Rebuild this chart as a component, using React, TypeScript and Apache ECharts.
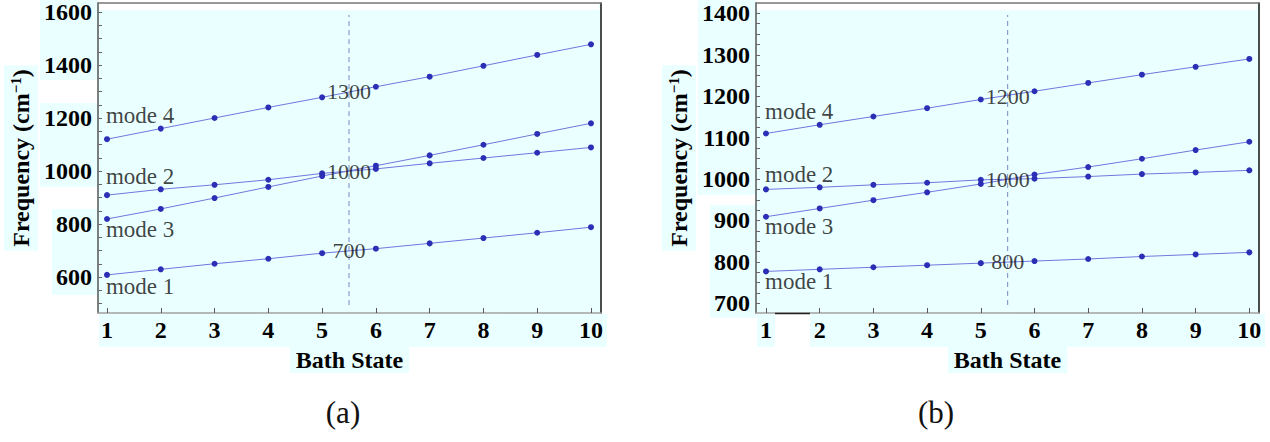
import React, { useEffect, useRef } from "react";
import * as echarts from "echarts";

// ---------- data ----------
const bathStates = [1, 2, 3, 4, 5, 6, 7, 8, 9, 10];

// panel (a)
const aMode1 = [608, 629, 650, 669, 690, 707, 727, 747, 767, 788];
const aMode2 = [909, 931, 948, 967, 991, 1008, 1029, 1049, 1069, 1089];
const aMode3 = [819, 857, 898, 940, 981, 1020, 1059, 1099, 1140, 1180];
const aMode4 = [1120, 1160, 1200, 1240, 1278, 1318, 1356, 1397, 1438, 1478];
const aMarkValues = [1300, 1000, 700];
const aModeLabelY = [565, 980, 780, 1210]; // mode 1, 2, 3, 4
const aYTickLabels = [600, 800, 1000, 1200, 1400, 1600];
const aYMinorTicks = [500, 550, 600, 650, 700, 750, 800, 850, 900, 950, 1000, 1050, 1100, 1150, 1200, 1250, 1300, 1350, 1400, 1450, 1500, 1550, 1600];
const aDashRange = [494, 1589];

// panel (b)
const bMode1 = [777, 782, 787, 792, 797, 802, 807, 813, 818, 823];
const bMode2 = [975, 980, 986, 991, 998, 1001, 1006, 1012, 1016, 1021];
const bMode3 = [909, 929, 949, 968, 988, 1011, 1029, 1049, 1070, 1090];
const bMode4 = [1110, 1131, 1151, 1171, 1192, 1212, 1232, 1252, 1271, 1290];
const bMarkValues = [1200, 1000, 800];
const bModeLabelY = [752, 1010, 885, 1162];
const bYTickLabels = [700, 800, 900, 1000, 1100, 1200, 1300, 1400];
const bYMinorTicks = [700, 725, 750, 775, 800, 825, 850, 875, 900, 925, 950, 975, 1000, 1025, 1050, 1075, 1100, 1125, 1150, 1175, 1200, 1225, 1250, 1275, 1300, 1325, 1350, 1375, 1400];
const bDashRange = [696, 1396];

const modeNames = ["mode 1", "mode 2", "mode 3", "mode 4"];
const dividerX = 5.5;

// ---------- styles ----------
const SERIF = "Liberation Serif";
const CYAN = "#eaffff";
const LINE_COLOR = "#7475de";
const DOT_COLOR = "#2b2fb5";

function buildPanel(
  gi: number,
  modes: number[][],
  marks: number[],
  labelY: number[],
  yLabels: number[],
  yTicks: number[],
  dash: number[],
  xRange: number[],
  yRange: number[]
) {
  const xAxes = [
    {
      type: "value",
      gridIndex: gi,
      min: xRange[0],
      max: xRange[1],
      name: "Bath State",
      nameLocation: "middle",
      nameGap: 34,
      nameTextStyle: {
        fontFamily: SERIF,
        fontWeight: "bold",
        fontSize: 24,
        color: "#000",
        backgroundColor: CYAN,
        padding: [1, 6, 1, 6],
        verticalAlign: "top",
      },
      axisLine: { show: true, lineStyle: { color: "#a0a0a0", width: 1.5 } },
      axisTick: { show: true, inside: true, length: 5, customValues: bathStates, lineStyle: { color: "#555" } },
      axisLabel: {
        show: true,
        customValues: bathStates,
        formatter: (v: number) => String(v),
        fontFamily: SERIF,
        fontWeight: "bold",
        fontSize: 24,
        color: "#000",
        margin: 5,
      },
      splitLine: { show: false },
    },
    {
      type: "value",
      gridIndex: gi,
      position: "top",
      min: xRange[0],
      max: xRange[1],
      axisLine: { show: true, onZero: false, lineStyle: { color: "#777", width: 1.5 } },
      axisTick: { show: false },
      axisLabel: { show: false },
      splitLine: { show: false },
    },
  ];
  const yAxes = [
    {
      type: "value",
      gridIndex: gi,
      min: yRange[0],
      max: yRange[1],
      name: "{t|Frequency (cm}{s|−1}{t|)}",
      nameLocation: "middle",
      nameGap: 60,
      nameTextStyle: {
        backgroundColor: CYAN,
        padding: [4, 4, 4, 4],
        rich: {
          t: { fontFamily: SERIF, fontWeight: "bold", fontSize: 24, color: "#000", lineHeight: 26 },
          s: { fontFamily: SERIF, fontWeight: "bold", fontSize: 15, color: "#000", lineHeight: 15, verticalAlign: "top" },
        },
      },
      axisLine: { show: true, onZero: false, lineStyle: { color: "#555", width: 1.5 } },
      axisTick: { show: true, inside: true, length: 4, customValues: yTicks, lineStyle: { color: "#666" } },
      axisLabel: {
        show: true,
        customValues: yLabels,
        formatter: (v: number) => String(v),
        fontFamily: SERIF,
        fontWeight: "bold",
        fontSize: 24,
        color: "#000",
        margin: 6,
      },
      splitLine: { show: false },
    },
    {
      type: "value",
      gridIndex: gi,
      position: "right",
      min: yRange[0],
      max: yRange[1],
      axisLine: { show: true, onZero: false, lineStyle: { color: "#111", width: 1.5 } },
      axisTick: { show: false },
      axisLabel: { show: false },
      splitLine: { show: false },
    },
  ];
  const xi = gi * 2;
  const yi = gi * 2;
  const series: any[] = modes.map((vals, k) => ({
    type: "line",
    name: modeNames[k],
    xAxisIndex: xi,
    yAxisIndex: yi,
    data: bathStates.map((x, i) => [x, vals[i]]),
    symbol: "circle",
    symbolSize: 6,
    lineStyle: { color: LINE_COLOR, width: 1 },
    itemStyle: { color: DOT_COLOR },
    z: 3,
  }));
  series.push({
    type: "line",
    xAxisIndex: xi,
    yAxisIndex: yi,
    data: [
      [dividerX, dash[0]],
      [dividerX, dash[1]],
    ],
    symbol: "none",
    lineStyle: { color: "#7a88c4", width: 1, type: [5, 4] },
    z: 2,
  });
  series.push({
    type: "scatter",
    xAxisIndex: xi,
    yAxisIndex: yi,
    data: marks.map((v) => [dividerX, v]),
    symbolSize: 0,
    label: {
      show: true,
      position: "inside",
      formatter: (p: any) => String(p.data[1]),
      fontFamily: SERIF,
      fontSize: 22,
      color: "#111",
    },
    z: 4,
  });
  series.push({
    type: "scatter",
    xAxisIndex: xi,
    yAxisIndex: yi,
    data: labelY.map((v, k) => [bathStates[0], v, modeNames[k]]),
    symbolSize: 0,
    label: {
      show: true,
      position: "right",
      distance: -1,
      formatter: (p: any) => p.data[2],
      fontFamily: SERIF,
      fontSize: 23,
      color: "#111",
    },
    z: 4,
  });
  return { xAxes, yAxes, series };
}

export default function App() {
  const ref = useRef<HTMLDivElement>(null);
  useEffect(() => {
    if (!ref.current) return;
    const chart = echarts.init(ref.current, undefined, { renderer: "svg" });
    const pa = buildPanel(0, [aMode1, aMode2, aMode3, aMode4], aMarkValues, aModeLabelY, aYTickLabels, aYMinorTicks, aDashRange, [0.833, 10.186], [464.2, 1634]);
    const pb = buildPanel(1, [bMode1, bMode2, bMode3, bMode4], bMarkValues, bModeLabelY, bYTickLabels, bYMinorTicks, bDashRange, [0.814, 10.18], [676.6, 1425]);
    const rect = (x: number, y: number, w: number, h: number, fill: string, z: number) => ({
      type: "rect",
      shape: { x, y, width: w, height: h },
      style: { fill },
      z,
      silent: true,
    });
    chart.setOption({
      animation: false,
      backgroundColor: "#fff",
      textStyle: { fontFamily: SERIF },
      grid: [
        { left: 98, top: 3, width: 503, height: 310, show: true, backgroundColor: CYAN, borderWidth: 0 },
        { left: 756, top: 3, width: 503, height: 310, show: true, backgroundColor: CYAN, borderWidth: 0 },
      ],
      xAxis: [...pa.xAxes, ...pb.xAxes],
      yAxis: [...pa.yAxes, ...pb.yAxes],
      series: [...pa.series, ...pb.series],
      graphic: {
        elements: [
          rect(40, 0, 58, 80, CYAN, -10),
          rect(40, 103, 58, 84, CYAN, -10),
          rect(52, 209, 46, 86, CYAN, -10),
          rect(99, 314, 508, 33, CYAN, -10),
          rect(698, 0, 58, 195, CYAN, -10),
          rect(710, 205, 46, 113, CYAN, -10),
          rect(757, 314, 18, 33, CYAN, -10),
          rect(810, 314, 455, 33, CYAN, -10),
          rect(99, 4, 500, 6, "#fff", 1),
          rect(757, 4, 500, 6, "#fff", 1),
          {
            type: "line",
            shape: { x1: 775, y1: 313.5, x2: 810, y2: 313.5 },
            style: { stroke: "#222", lineWidth: 1.5 },
            z: 5,
            silent: true,
          },
          {
            type: "text",
            x: 343,
            y: 412,
            style: { text: "(a)", fontFamily: SERIF, fontSize: 31, fill: "#111", align: "center", verticalAlign: "middle" },
            silent: true,
          },
          {
            type: "text",
            x: 936,
            y: 412,
            style: { text: "(b)", fontFamily: SERIF, fontSize: 31, fill: "#111", align: "center", verticalAlign: "middle" },
            silent: true,
          },
        ],
      },
    });
    return () => chart.dispose();
  }, []);
  return <div ref={ref} style={{ position: "absolute", left: 0, top: 0, width: 1270, height: 442 }} />;
}
